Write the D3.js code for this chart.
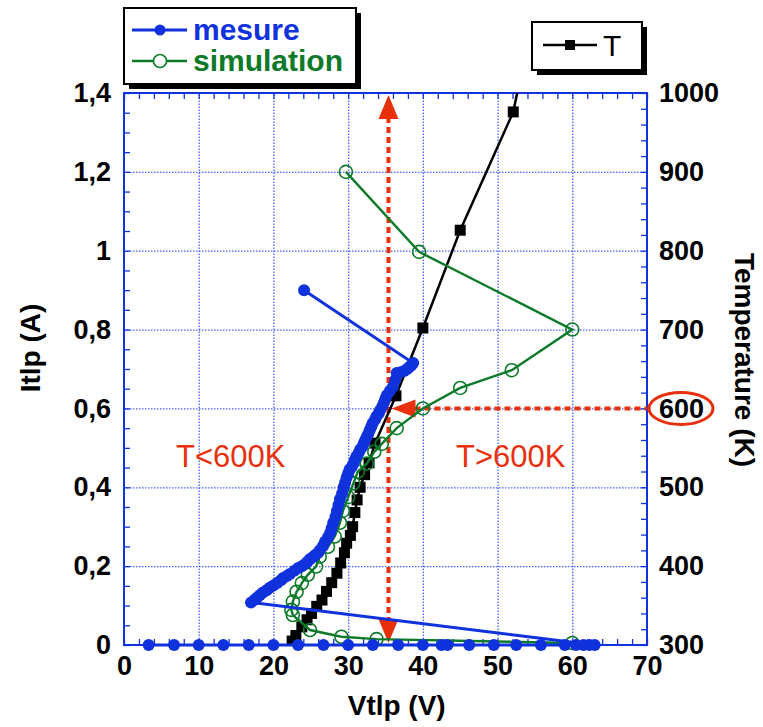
<!DOCTYPE html>
<html>
<head>
<meta charset="utf-8">
<script src="https://cdn.jsdelivr.net/npm/d3@7"></script>
<style>
  body { margin: 0; background: #fff; }
  text { font-family: "Liberation Sans", Arial, sans-serif; font-weight: bold; }
</style>
</head>
<body>
<div id="chart"></div>
<script>
// mesure (Vtlp V, Itlp A)
var mesureV = [3.3, 6.7, 10, 13.3, 16.7, 20, 23.3, 26.7, 30, 33.3, 36.7, 40, 42.5, 43.3, 46.2, 49.5, 52.5, 55.8, 59, 60.5, 61.5, 62.3, 63,
    17, 17.5, 17.8, 18.2, 18.6, 19.1, 19.5, 20, 20.5, 21, 21.3, 21.8, 22.2, 22.8, 23.3, 23.8, 24.2, 24.6, 24.9, 25.3, 25.6, 26, 26.2,
    26.6, 26.9, 27.3, 27.6, 27.8, 28, 28.3, 28.5, 28.7, 28.9, 29.2, 29.4, 29.6, 29.8, 30, 30.2, 30.5, 30.7, 30.9, 31.1, 31.4,
    31.6, 31.9, 32.1, 32.3, 32.5, 32.7, 32.9, 33.1, 33.3, 33.6, 33.8, 34.1, 34.3, 34.6, 34.8, 35, 35.2, 35.6, 36, 36.3, 36.5,
    37, 37.5, 37.9, 38.2, 38.5, 38.7, 24.1];
var mesureI = [0, 0, 0, 0, 0, 0, 0, 0, 0, 0, 0, 0, 0, 0, 0, 0, 0, 0, 0, 0, 0, 0, 0,
    0.108, 0.115, 0.12, 0.127, 0.133, 0.139, 0.145, 0.151, 0.157, 0.164, 0.17, 0.175, 0.18, 0.188, 0.195, 0.2, 0.205, 0.212, 0.218, 0.223, 0.228, 0.234, 0.24,
    0.25, 0.262, 0.273, 0.285, 0.297, 0.31, 0.325, 0.34, 0.355, 0.37, 0.385, 0.4, 0.412, 0.425, 0.435, 0.445, 0.452, 0.46, 0.469, 0.478, 0.487,
    0.495, 0.503, 0.512, 0.52, 0.528, 0.536, 0.545, 0.554, 0.563, 0.572, 0.58, 0.588, 0.596, 0.606, 0.615, 0.625, 0.634, 0.645, 0.655, 0.672, 0.69,
    0.692, 0.695, 0.7, 0.705, 0.71, 0.715, 0.9];

// simulation (Vtlp V, Itlp A)
var simV = [60, 33.8, 29.1, 24.9, 22.6, 22.4, 22.6, 23.1, 23.8, 24.6, 25.7, 26.2, 27.3, 28.2, 28.9, 29.3, 30, 30.7, 31.3, 32.5, 33.5, 34.5, 36.5, 40, 45, 51.9, 60, 39.5, 29.7];
var simI = [0.005, 0.015, 0.021, 0.038, 0.076, 0.089, 0.11, 0.135, 0.157, 0.178, 0.199, 0.224, 0.249, 0.275, 0.31, 0.34, 0.375, 0.41, 0.44, 0.46, 0.49, 0.51, 0.55, 0.6, 0.652, 0.697, 0.8, 0.997, 1.2];

// T (Vtlp V, Temperature K)
var tempV = [22.5, 23, 23.8, 24.5, 25.1, 25.8, 26.5, 27.1, 27.8, 28.5, 29, 29.5, 29.8, 30.3, 30.6, 30.9, 31.2, 31.6, 32.2, 32.8, 33.6, 36.4, 40, 45, 52.1, 53.5];
var tempK = [305, 312, 323, 332, 340, 349, 357, 368, 379, 391, 404, 417, 429, 439, 450, 468, 484, 500, 516, 531, 556, 616, 702, 826, 976, 1040];

var xTicks = [0, 10, 20, 30, 40, 50, 60, 70];
var yTicks = [0, 0.2, 0.4, 0.6, 0.8, 1, 1.2, 1.4];
var tTicks = [300, 400, 500, 600, 700, 800, 900, 1000];

var width = 763, height = 727,
    margin = {top: 93, right: 116, bottom: 82, left: 124};
var w = width - margin.left - margin.right,
    h = height - margin.top - margin.bottom;

var blue = "#1032dc", green = "#0c7a28", red = "#e8300c", gridBlue = "#4a64ff";

var svg = d3.select("#chart").append("svg")
    .attr("width", width)
    .attr("height", height);

var x = d3.scaleLinear().domain([0, 70]).range([0, w]);
var y = d3.scaleLinear().domain([0, 1.4]).range([h, 0]);
var yT = d3.scaleLinear().domain([300, 1000]).range([h, 0]);

var g = svg.append("g").attr("transform", `translate(${margin.left},${margin.top})`);

svg.append("defs").append("clipPath").attr("id", "plotclip")
    .append("rect").attr("x", 0).attr("y", 0).attr("width", w).attr("height", h);

// grid
g.append("g").attr("class", "grid")
    .attr("transform", `translate(0,${h})`)
    .call(d3.axisBottom(x).tickValues([10, 20, 30, 40, 50, 60]).tickSize(-h).tickFormat(""));
g.append("g").attr("class", "grid")
    .call(d3.axisLeft(y).tickValues([0.2, 0.4, 0.6, 0.8, 1, 1.2]).tickSize(-w).tickFormat(""));
g.selectAll(".grid .domain").remove();
g.selectAll(".grid line").attr("stroke", gridBlue).attr("stroke-width", 1.3).attr("stroke-dasharray", "1.5,1.5");

// minor ticks, inward
function minor(axis, transform) {
    var a = g.append("g").attr("class", "minor").attr("transform", transform).call(axis);
    a.select(".domain").remove();
    a.selectAll("line").attr("stroke", blue).attr("stroke-width", 1.3);
    a.selectAll("text").remove();
}
minor(d3.axisBottom(x).tickValues(d3.range(0, 71, 2)).tickSize(-6), `translate(0,${h})`);
minor(d3.axisTop(x).tickValues(d3.range(0, 71, 2)).tickSize(-6), "translate(0,0)");
minor(d3.axisLeft(y).tickValues(d3.range(0, 1.401, 0.05)).tickSize(-6), "translate(0,0)");
minor(d3.axisRight(yT).tickValues(d3.range(300, 1001, 20)).tickSize(-6), `translate(${w},0)`);

// tick labels
function labels(axis, transform) {
    var a = g.append("g").attr("transform", transform).call(axis);
    a.select(".domain").remove();
    a.selectAll("line").remove();
    a.selectAll("text").attr("font-size", 27).attr("fill", "#000")
        .style("font-family", "'Liberation Sans', Arial, sans-serif").style("font-weight", "bold");
}
labels(d3.axisBottom(x).tickValues(xTicks).tickSize(0).tickPadding(11), `translate(0,${h})`);
labels(d3.axisLeft(y).tickValues(yTicks).tickSize(0).tickPadding(13)
    .tickFormat(d => d3.format(".1~f")(d).replace(".", ",")), "translate(0,0)");
labels(d3.axisRight(yT).tickValues(tTicks).tickSize(0).tickPadding(12).tickFormat(d3.format("d")), `translate(${w},0)`);

// frame
g.append("rect").attr("width", w).attr("height", h)
    .attr("fill", "none").attr("stroke", blue).attr("stroke-width", 2);

// axis titles
svg.append("text").attr("x", margin.left + x(36.5)).attr("y", 715)
    .attr("text-anchor", "middle").attr("font-size", 28).text("Vtlp (V)");
svg.append("text").attr("transform", "translate(40,348) rotate(-90)")
    .attr("text-anchor", "middle").attr("font-size", 28).text("Itlp (A)");
svg.append("text").attr("transform", "translate(735,360) rotate(90)")
    .attr("text-anchor", "middle").attr("font-size", 28).text("Temperature (K)");

// red annotations
var vArrow = 35.4;
g.append("line")
    .attr("x1", x(vArrow)).attr("x2", x(vArrow))
    .attr("y1", y(1.4) + 24).attr("y2", y(0) - 22)
    .attr("stroke", red).attr("stroke-width", 4).attr("stroke-dasharray", "6,4");
g.append("line")
    .attr("x1", x(vArrow) + 26).attr("x2", w)
    .attr("y1", y(0.6)).attr("y2", y(0.6))
    .attr("stroke", red).attr("stroke-width", 4).attr("stroke-dasharray", "6,4");
g.append("path")
    .attr("d", `M${x(vArrow)},${y(1.4) + 2} l-10,24 l20,0 Z`).attr("fill", red);
g.append("path")
    .attr("d", `M${x(vArrow)},${y(0) - 2} l-10,-24 l20,0 Z`).attr("fill", red);
g.append("path")
    .attr("d", `M${x(vArrow) + 3},${y(0.6)} l24,-9 l0,18 Z`).attr("fill", red);
g.append("ellipse")
    .attr("cx", w + 34).attr("cy", yT(600)).attr("rx", 32).attr("ry", 16)
    .attr("fill", "none").attr("stroke", red).attr("stroke-width", 3);
g.append("text").attr("x", 176 - margin.left).attr("y", 467 - margin.top)
    .attr("fill", red).attr("font-size", 31).style("font-weight", "normal").text("T<600K");
g.append("text").attr("x", 456 - margin.left).attr("y", 467 - margin.top)
    .attr("fill", red).attr("font-size", 31).style("font-weight", "normal").text("T>600K");

// series
var mesure = mesureV.map((v, i) => ({v: v, i: mesureI[i]}));
var sim = simV.map((v, i) => ({v: v, i: simI[i]}));
var temp = tempV.map((v, i) => ({v: v, t: tempK[i]}));

var lineI = d3.line().x(d => x(d.v)).y(d => y(d.i));
var lineT = d3.line().x(d => x(d.v)).y(d => yT(d.t));

var tg = g.append("g").attr("clip-path", "url(#plotclip)");
tg.append("path").datum(temp).attr("d", lineT)
    .attr("fill", "none").attr("stroke", "#000").attr("stroke-width", 2.5);
tg.selectAll(".sq").data(temp).enter().append("rect").attr("class", "sq")
    .attr("x", d => x(d.v) - 5.5).attr("y", d => yT(d.t) - 5.5)
    .attr("width", 11).attr("height", 11).attr("fill", "#000");

g.append("path").datum(sim).attr("d", lineI)
    .attr("fill", "none").attr("stroke", green).attr("stroke-width", 2.4);
g.selectAll(".oc").data(sim).enter().append("circle").attr("class", "oc")
    .attr("cx", d => x(d.v)).attr("cy", d => y(d.i)).attr("r", 6.5)
    .attr("fill", "none").attr("stroke", green).attr("stroke-width", 1.6);

g.append("path").datum(mesure).attr("d", lineI)
    .attr("fill", "none").attr("stroke", blue).attr("stroke-width", 3);
g.selectAll(".dot").data(mesure).enter().append("circle").attr("class", "dot")
    .attr("cx", d => x(d.v)).attr("cy", d => y(d.i)).attr("r", 6)
    .attr("fill", blue);

// legends
function legendBox(x0, y0, bw, bh) {
    svg.append("rect").attr("x", x0 + 5).attr("y", y0 + 5).attr("width", bw).attr("height", bh).attr("fill", "#000");
    svg.append("rect").attr("x", x0).attr("y", y0).attr("width", bw).attr("height", bh)
        .attr("fill", "#fff").attr("stroke", "#000").attr("stroke-width", 2);
}
legendBox(124, 8, 232, 76);
svg.append("line").attr("x1", 132).attr("x2", 187).attr("y1", 30).attr("y2", 30).attr("stroke", blue).attr("stroke-width", 3);
svg.append("circle").attr("cx", 160).attr("cy", 30).attr("r", 5.5).attr("fill", blue);
svg.append("text").attr("x", 193).attr("y", 40).attr("fill", blue).attr("font-size", 30).text("mesure");
svg.append("line").attr("x1", 132).attr("x2", 187).attr("y1", 61).attr("y2", 61).attr("stroke", green).attr("stroke-width", 2.4);
svg.append("circle").attr("cx", 160).attr("cy", 61).attr("r", 6.5).attr("fill", "#fff").attr("stroke", green).attr("stroke-width", 1.6);
svg.append("text").attr("x", 193).attr("y", 71).attr("fill", green).attr("font-size", 30).text("simulation");

legendBox(532, 22, 110, 48);
svg.append("line").attr("x1", 543).attr("x2", 597).attr("y1", 45).attr("y2", 45).attr("stroke", "#000").attr("stroke-width", 2.5);
svg.append("rect").attr("x", 565).attr("y", 40).attr("width", 10).attr("height", 10).attr("fill", "#000");
svg.append("text").attr("x", 603).attr("y", 56).attr("fill", "#000").attr("font-size", 30).style("font-weight", "normal").text("T");
</script>
</body>
</html>
